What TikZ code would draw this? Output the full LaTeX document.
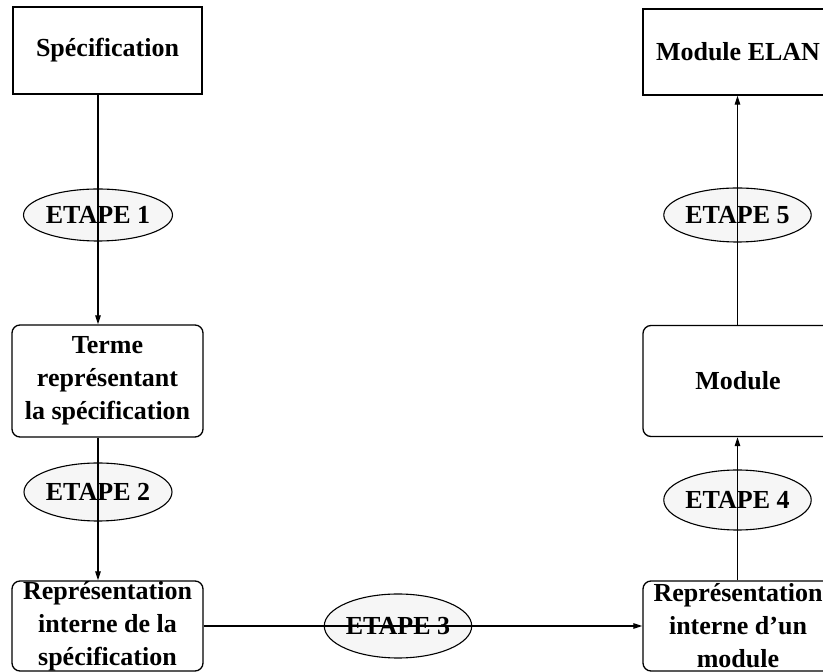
\documentclass[tikz,border=0pt]{standalone}
\usepackage{fontspec}
\setmainfont{Liberation Serif}
\usetikzlibrary{shapes.geometric,arrows.meta}
\begin{document}
\begin{tikzpicture}[x=1pt,y=1pt,
  every node/.style={font=\fontsize{26}{33}\selectfont\bfseries, inner sep=0pt, align=center},
  sqbox/.style={draw, line width=1.3pt, rectangle, minimum width=190pt},
  rbox/.style={draw, line width=1.3pt, rectangle, rounded corners=8pt, minimum width=191pt},
  etape/.style={draw, line width=1.1pt, ellipse, fill=gray!7},
  conn/.style={line width=1.1pt},
  arr/.style={conn, -{Triangle[length=9pt,width=5.5pt]}}]
\useasboundingbox (0,0) rectangle (823,672);
\clip (0,0) rectangle (823,672);
\fill[white] (0,0) rectangle (823,672);
% boxes
\node[sqbox, minimum width=189pt, minimum height=87pt] (spec) at (107.5,621.5) {Spécification};
\node[sqbox, minimum width=190pt, minimum height=86pt] (elan) at (738,620) {Module ELAN};
\node[rbox, minimum height=112pt] (terme) at (107.5,291) {Terme\\représentant\\la spécification};
\node[rbox, minimum width=190pt, minimum height=111pt] (module) at (738,291) {Module};
\node[rbox, minimum height=90pt] (reprL) at (107.5,46) {Représentation\\interne de la\\spécification};
\node[rbox, minimum width=190pt, minimum height=90pt] (reprR) at (738,46) {Représentation\\interne d’un\\module};
% steps
\node[etape, minimum width=149pt, minimum height=52pt] (e1) at (98,457) {ETAPE 1};
\node[etape, minimum width=148pt, minimum height=58pt] (e2) at (98,180) {ETAPE 2};
\node[etape, minimum width=144pt, minimum height=64pt] (e3) at (398,46) {ETAPE 3};
\node[etape, minimum width=140pt, minimum height=60pt] (e4) at (737.5,172) {ETAPE 4};
\node[etape, minimum width=141pt, minimum height=54pt] (e5) at (737.5,457) {ETAPE 5};
% connectors
\draw[arr] (e1 |- spec.south) -- (e1 |- terme.north);
\draw[arr] (e2 |- terme.south) -- (e2 |- reprL.north);
\draw[arr] (reprL.east) -- (reprR.west);
\draw[arr] (e4 |- reprR.north) -- (e4 |- module.south);
\draw[arr] (e5 |- module.north) -- (e5 |- elan.south);
\end{tikzpicture}
\end{document}
